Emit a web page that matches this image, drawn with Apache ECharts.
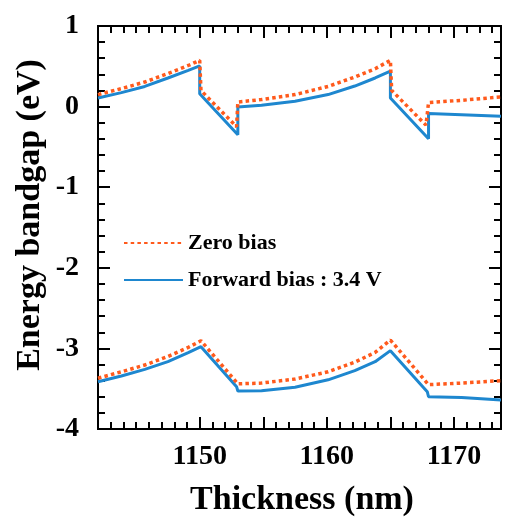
<!DOCTYPE html>
<html>
<head>
<meta charset="utf-8">
<script src="https://cdn.jsdelivr.net/npm/echarts@6/dist/echarts.min.js"></script>
<style>
  html, body { margin: 0; padding: 0; background: #fff; }
  #chart { width: 509px; height: 530px; }
</style>
</head>
<body>
<div id="chart"></div>
<script>
// thickness (nm) and energy (eV)
const zeroUpperX = [1142, 1143.84, 1145.68, 1147.5, 1149.1, 1150, 1150.1, 1152.9, 1153, 1154.86, 1157.5, 1160.1, 1162.2, 1163.8, 1165, 1165.1, 1167.8, 1168, 1170.6, 1173.7];
const zeroUpperY = [0.149, 0.223, 0.305, 0.41, 0.51, 0.574, 0.2, -0.25, 0.057, 0.087, 0.149, 0.25, 0.367, 0.47, 0.574, 0.2, -0.23, 0.05, 0.078, 0.12];

const fwdUpperX = [1142, 1143.84, 1145.68, 1147.5, 1149.1, 1150, 1150, 1153, 1153, 1154.86, 1157.5, 1160.1, 1162.2, 1163.8, 1165, 1165, 1168, 1168, 1170.6, 1173.7];
const fwdUpperY = [0.107, 0.173, 0.25, 0.355, 0.45, 0.505, 0.16, -0.35, -0.005, 0.016, 0.066, 0.149, 0.255, 0.355, 0.44, 0.107, -0.4, -0.087, -0.1, -0.12];

const zeroLowerX = [1142, 1143.84, 1145.68, 1147.5, 1149.1, 1150.1, 1153, 1154.86, 1157.5, 1160.1, 1162.2, 1163.8, 1165, 1168, 1170.6, 1173.7];
const zeroLowerY = [-3.37, -3.29, -3.206, -3.1, -2.987, -2.905, -3.44, -3.43, -3.38, -3.29, -3.17, -3.05, -2.896, -3.45, -3.43, -3.4];

const fwdLowerX = [1142, 1143.84, 1145.68, 1147.5, 1149.1, 1150.1, 1152.9, 1153, 1154.86, 1157.5, 1160.1, 1162.2, 1163.8, 1165, 1167.9, 1168, 1170.6, 1173.7];
const fwdLowerY = [-3.413, -3.342, -3.26, -3.165, -3.053, -2.979, -3.475, -3.528, -3.524, -3.482, -3.39, -3.276, -3.165, -3.028, -3.537, -3.6, -3.61, -3.64];

const majorTicksX = [1150, 1155, 1160, 1165, 1170];
const labelTicksX = [1150, 1160, 1170];

const seriesNames = ['Zero bias', 'Forward bias : 3.4 V'];
const xTitle = 'Thickness (nm)';
const yTitle = 'Energy bandgap (eV)';

let chart = echarts.init(document.getElementById('chart'), null, { renderer: 'canvas' });

const font = '"Liberation Serif", "Times New Roman", serif';
const orange = '#ff5a1c';
const blue = '#1e87cf';

function pairs(xs, ys) {
  return xs.map(function (x, i) { return [x, ys[i]]; });
}

// x axis pieces: major ticks, minor ticks (every 1 nm), bottom and top
function xAxisPart(pos, major) {
  let ax = {
    type: 'value',
    position: pos,
    min: 1142,
    max: 1173.7,
    splitLine: { show: false },
    axisLine: { show: true, onZero: false, lineStyle: { color: '#000', width: 2 } },
    axisLabel: { show: false },
    axisTick: { show: true, inside: true, length: major ? 12 : 7, lineStyle: { color: '#000', width: 2 } }
  };
  if (major) {
    ax.axisTick.customValues = majorTicksX;
  } else {
    ax.interval = 1;
  }
  if (major && pos === 'bottom') {
    ax.axisLabel = {
      show: true,
      customValues: labelTicksX,
      formatter: function (v) { return String(v); },
      margin: 14,
      color: '#000',
      fontFamily: font,
      fontWeight: 'bold',
      fontSize: 28
    };
  }
  return ax;
}

function yAxisPart(pos) {
  return {
    type: 'value',
    position: pos,
    min: -4,
    max: 1,
    interval: 1,
    splitLine: { show: false },
    axisLine: { show: true, onZero: false, lineStyle: { color: '#000', width: 2 } },
    axisTick: { show: true, inside: true, length: 12, lineStyle: { color: '#000', width: 2 } },
    minorTick: { show: true, splitNumber: 5, length: 7, lineStyle: { color: '#000', width: 2 } },
    axisLabel: {
      show: pos === 'left',
      margin: 19,
      color: '#000',
      fontFamily: font,
      fontWeight: 'bold',
      fontSize: 28
    }
  };
}

function lineSeries(name, data, color, dotted) {
  return {
    name: name,
    type: 'line',
    data: data,
    xAxisIndex: 0,
    yAxisIndex: 0,
    symbol: 'none',
    lineStyle: {
      color: color,
      width: dotted ? 3.5 : 3,
      type: dotted ? [3.5, 3.2] : 'solid',
      cap: 'butt'
    },
    itemStyle: { color: 'rgba(0,0,0,0)' },
    z: dotted ? 3 : 2
  };
}

let option = {
  animation: false,
  grid: { left: 98, right: 8, top: 26, bottom: 101 },
  legend: {
    orient: 'vertical',
    left: 123,
    top: 232,
    padding: 0,
    itemWidth: 59,
    itemHeight: 14,
    itemGap: 15,
    data: seriesNames,
    textStyle: { color: '#000', fontFamily: font, fontWeight: 'bold', fontSize: 22, lineHeight: 22 }
  },
  // axis titles
  graphic: [
    {
      type: 'text',
      x: 302,
      y: 500,
      style: { text: xTitle, fill: '#000', fontFamily: font, fontWeight: 'bold', fontSize: 34, align: 'center', verticalAlign: 'middle' }
    },
    {
      type: 'text',
      x: 30,
      y: 215,
      rotation: Math.PI / 2,
      style: { text: yTitle, fill: '#000', fontFamily: font, fontWeight: 'bold', fontSize: 34, align: 'center', verticalAlign: 'middle' }
    }
  ],
  xAxis: [
    xAxisPart('bottom', true),
    xAxisPart('bottom', false),
    xAxisPart('top', true),
    xAxisPart('top', false)
  ],
  yAxis: [
    yAxisPart('left'),
    yAxisPart('right')
  ],
  series: [
    lineSeries(seriesNames[1], pairs(fwdUpperX, fwdUpperY), blue, false),
    lineSeries(seriesNames[1] + ' (valence)', pairs(fwdLowerX, fwdLowerY), blue, false),
    lineSeries(seriesNames[0], pairs(zeroUpperX, zeroUpperY), orange, true),
    lineSeries(seriesNames[0] + ' (valence)', pairs(zeroLowerX, zeroLowerY), orange, true)
  ]
};
chart.setOption(option);
</script>
</body>
</html>
